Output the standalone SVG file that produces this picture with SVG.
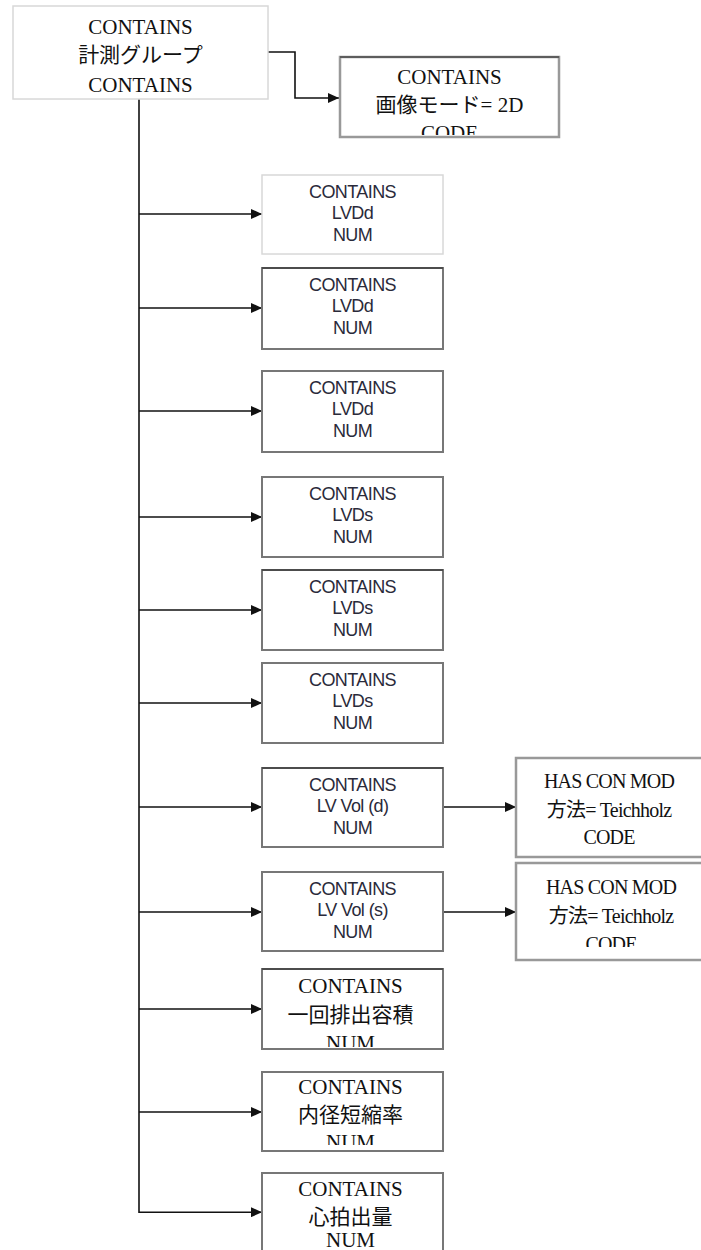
<svg xmlns="http://www.w3.org/2000/svg" width="701" height="1250" viewBox="0 0 701 1250">
<style>
.serif{font-family:"Liberation Serif","Noto Sans CJK JP",serif;font-size:21px;fill:#111;text-anchor:middle}
.rs{font-family:"Liberation Serif","Noto Sans CJK JP",serif;font-size:20px;fill:#111;text-anchor:middle;letter-spacing:-0.8px}
.sans{font-family:"Liberation Sans",Arial,sans-serif;font-size:18px;fill:#2a2a3a;text-anchor:middle;letter-spacing:-0.6px}
.light{fill:#fff;stroke:#d8d8d8;stroke-width:1.5}
.box{fill:#fff;stroke:#777;stroke-width:2}
.topedge{stroke:#222;stroke-width:1.2}
.gbox{fill:#fff;stroke:#999;stroke-width:2.5}
.conn{fill:none;stroke:#111;stroke-width:1.6}
</style>
<defs>
<marker id="arr" markerWidth="11" markerHeight="10" refX="11" refY="5" orient="auto" markerUnits="userSpaceOnUse">
<path d="M0,0 L11,5 L0,10 Z" fill="#111"/>
</marker>
<clipPath id="c2"><rect x="340" y="57" width="219" height="78"/></clipPath>
<clipPath id="cr2"><rect x="516" y="863" width="200" height="84"/></clipPath>
<clipPath id="c9"><rect x="262" y="969" width="181" height="78"/></clipPath>
<clipPath id="c10"><rect x="262" y="1072" width="181" height="73"/></clipPath>
</defs>

<g id="connectors">
<polyline class="conn" points="268,52 295,52 295,98 339,98" marker-end="url(#arr)"/>
<line class="conn" x1="139" y1="99" x2="139" y2="1213"/>
<line class="conn" x1="139" y1="214" x2="262" y2="214" marker-end="url(#arr)"/>
<line class="conn" x1="139" y1="308" x2="262" y2="308" marker-end="url(#arr)"/>
<line class="conn" x1="139" y1="411" x2="262" y2="411" marker-end="url(#arr)"/>
<line class="conn" x1="139" y1="517" x2="262" y2="517" marker-end="url(#arr)"/>
<line class="conn" x1="139" y1="610" x2="262" y2="610" marker-end="url(#arr)"/>
<line class="conn" x1="139" y1="703" x2="262" y2="703" marker-end="url(#arr)"/>
<line class="conn" x1="139" y1="807" x2="262" y2="807" marker-end="url(#arr)"/>
<line class="conn" x1="139" y1="912" x2="262" y2="912" marker-end="url(#arr)"/>
<line class="conn" x1="139" y1="1009" x2="262" y2="1009" marker-end="url(#arr)"/>
<line class="conn" x1="139" y1="1112" x2="262" y2="1112" marker-end="url(#arr)"/>
<line class="conn" x1="139" y1="1212.2" x2="262" y2="1212.2" marker-end="url(#arr)"/>
<line class="conn" x1="443" y1="807" x2="516" y2="807" marker-end="url(#arr)"/>
<line class="conn" x1="443" y1="912" x2="516" y2="912" marker-end="url(#arr)"/>
</g>

<g id="n-root">
<rect class="light" x="13" y="6" width="255" height="93"/>
<text class="serif" x="140.5" y="34">CONTAINS</text>
<text class="serif" x="140.5" y="62">計測グループ</text>
<text class="serif" x="140.5" y="92">CONTAINS</text>
</g>

<g id="n-mode">
<rect class="gbox" x="340" y="57" width="219" height="80"/>
<line class="topedge" x1="340" y1="57" x2="559" y2="57"/>
<g clip-path="url(#c2)">
<text class="serif" x="449.5" y="84">CONTAINS</text>
<text class="serif" x="449.5" y="112">画像モード= 2D</text>
<text class="serif" x="449.5" y="140">CODE</text>
</g>
</g>

<g id="n-lvdd1">
<rect class="light" x="262" y="175" width="181" height="79"/>
<text class="sans" x="352.5" y="198">CONTAINS</text>
<text class="sans" x="352.5" y="219">LVDd</text>
<text class="sans" x="352.5" y="241">NUM</text>
</g>

<g id="n-lvdd2">
<rect class="box" x="262" y="268" width="181" height="81"/>
<line class="topedge" x1="262" y1="268" x2="443" y2="268"/>
<text class="sans" x="352.5" y="291">CONTAINS</text>
<text class="sans" x="352.5" y="312">LVDd</text>
<text class="sans" x="352.5" y="334">NUM</text>
</g>

<g id="n-lvdd3">
<rect class="box" x="262" y="371" width="181" height="81"/>
<text class="sans" x="352.5" y="394">CONTAINS</text>
<text class="sans" x="352.5" y="415">LVDd</text>
<text class="sans" x="352.5" y="437">NUM</text>
</g>

<g id="n-lvds1">
<rect class="box" x="262" y="477" width="181" height="80"/>
<text class="sans" x="352.5" y="500">CONTAINS</text>
<text class="sans" x="352.5" y="521">LVDs</text>
<text class="sans" x="352.5" y="543">NUM</text>
</g>

<g id="n-lvds2">
<rect class="box" x="262" y="570" width="181" height="80"/>
<line class="topedge" x1="262" y1="570" x2="443" y2="570"/>
<text class="sans" x="352.5" y="593">CONTAINS</text>
<text class="sans" x="352.5" y="614">LVDs</text>
<text class="sans" x="352.5" y="636">NUM</text>
</g>

<g id="n-lvds3">
<rect class="box" x="262" y="663" width="181" height="80"/>
<text class="sans" x="352.5" y="686">CONTAINS</text>
<text class="sans" x="352.5" y="707">LVDs</text>
<text class="sans" x="352.5" y="729">NUM</text>
</g>

<g id="n-lvvold">
<rect class="box" x="262" y="768" width="181" height="79"/>
<line class="topedge" x1="262" y1="768" x2="443" y2="768"/>
<text class="sans" x="352.5" y="791">CONTAINS</text>
<text class="sans" x="352.5" y="812">LV Vol (d)</text>
<text class="sans" x="352.5" y="834">NUM</text>
</g>

<g id="n-lvvols">
<rect class="box" x="262" y="872" width="181" height="79"/>
<text class="sans" x="352.5" y="895">CONTAINS</text>
<text class="sans" x="352.5" y="916">LV Vol (s)</text>
<text class="sans" x="352.5" y="938">NUM</text>
</g>

<g id="n-mod1">
<rect class="gbox" x="516" y="758" width="200" height="99"/>
<text class="rs" x="609" y="788">HAS CON MOD</text>
<text class="rs" x="609" y="817">方法= Teichholz</text>
<text class="rs" x="609" y="844">CODE</text>
</g>

<g id="n-mod2">
<rect class="gbox" x="516" y="863" width="200" height="97"/>
<g clip-path="url(#cr2)">
<text class="rs" x="611" y="894">HAS CON MOD</text>
<text class="rs" x="611" y="923">方法= Teichholz</text>
<text class="rs" x="611" y="951">CODE</text>
</g>
</g>

<g id="n-sv">
<rect class="box" x="262" y="969" width="181" height="80"/>
<line class="topedge" x1="262" y1="969" x2="443" y2="969"/>
<g clip-path="url(#c9)">
<text class="serif" x="350.5" y="993">CONTAINS</text>
<text class="serif" x="350.5" y="1022">一回排出容積</text>
<text class="serif" x="350.5" y="1050">NUM</text>
</g>
</g>

<g id="n-fs">
<rect class="box" x="262" y="1072" width="181" height="79"/>
<g clip-path="url(#c10)">
<text class="serif" x="350.5" y="1094">CONTAINS</text>
<text class="serif" x="350.5" y="1122">内径短縮率</text>
<text class="serif" x="350.5" y="1149">NUM</text>
</g>
</g>

<g id="n-co">
<rect class="box" x="262" y="1173" width="181" height="90"/>
<text class="serif" x="350.5" y="1196">CONTAINS</text>
<text class="serif" x="350.5" y="1224">心拍出量</text>
<text class="serif" x="350.5" y="1247">NUM</text>
</g>
</svg>
